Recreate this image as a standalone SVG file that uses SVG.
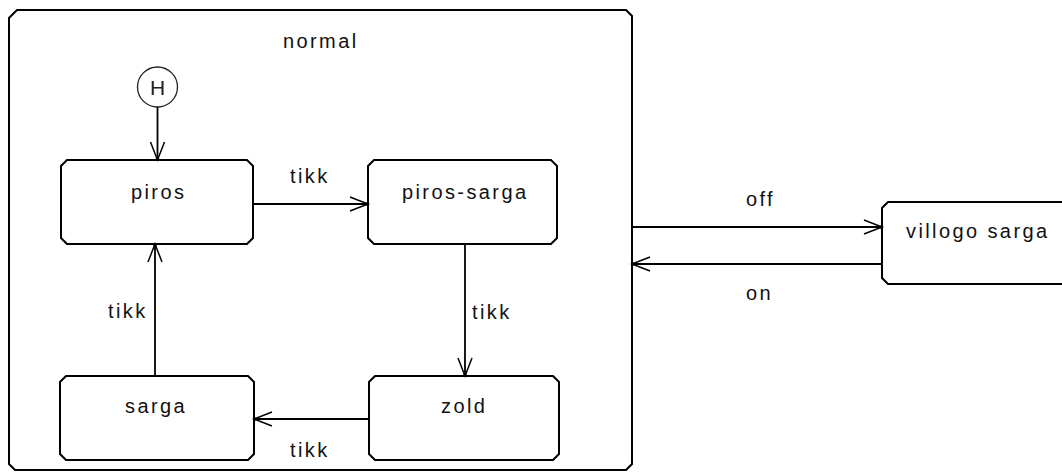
<svg xmlns="http://www.w3.org/2000/svg" width="1062" height="472" viewBox="0 0 1062 472">
<style>
.box{fill:#fff;stroke:#000;stroke-width:2}
.lbl{font-family:"Liberation Sans",Arial,sans-serif;font-size:20px;letter-spacing:2.4px;fill:#111}
.ln{fill:none;stroke:#000;stroke-width:1.8}
</style>
<defs>
<marker id="ah" markerUnits="userSpaceOnUse" markerWidth="24" markerHeight="20" viewBox="-20 -10 24 20" refX="0" refY="0" orient="auto">
<path d="M-18,-7 L0,0 L-18,7" fill="none" stroke="#000" stroke-width="1.5"/>
<circle cx="-1" cy="0" r="1.8" fill="#000"/>
</marker>
</defs>
<rect width="1062" height="472" fill="#fff"/>
<g id="normal">
<path class="box" d="M17,10 L626,10 L632,16 L632,464 L626,470 L15,470 L9,464 L9,18 Z"/>
<text class="lbl" x="283" y="48">normal</text>
</g>
<g id="history">
<circle cx="157.5" cy="87" r="20" fill="#fff" stroke="#222" stroke-width="1.3"/>
<text x="157.5" y="95" text-anchor="middle" style="font-family:'Liberation Sans',Arial,sans-serif;font-size:21px;fill:#222">H</text>
</g>
<g id="piros">
<path class="box" d="M67,160 L247,160 L253,166 L253,238 L247,244 L67,244 L61,238 L61,166 Z"/>
<text class="lbl" x="131" y="199">piros</text>
</g>
<g id="piros-sarga">
<path class="box" d="M374,160 L551,160 L557,166 L557,238 L551,244 L374,244 L368,238 L368,166 Z"/>
<text class="lbl" x="402" y="199">piros-sarga</text>
</g>
<g id="sarga">
<path class="box" d="M66,376 L248,376 L254,382 L254,454 L248,460 L66,460 L60,454 L60,382 Z"/>
<text class="lbl" x="125" y="413">sarga</text>
</g>
<g id="zold">
<path class="box" d="M375,376 L553,376 L559,382 L559,454 L553,460 L375,460 L369,454 L369,382 Z"/>
<text class="lbl" x="441" y="413">zold</text>
</g>
<g id="villogo-sarga">
<path class="box" d="M888,202 L1070,202 L1070,284 L888,284 L882,278 L882,208 Z"/>
<text class="lbl" x="906" y="238">villogo sarga</text>
</g>
<g id="connectors">
<line class="ln" x1="157.5" y1="107" x2="157.5" y2="160" marker-end="url(#ah)"/>
<line class="ln" x1="253" y1="204" x2="368" y2="204" marker-end="url(#ah)"/>
<line class="ln" x1="465" y1="244" x2="465" y2="376" marker-end="url(#ah)"/>
<line class="ln" x1="369" y1="419" x2="254" y2="419" marker-end="url(#ah)"/>
<line class="ln" x1="155" y1="376" x2="155" y2="244" marker-end="url(#ah)"/>
<line class="ln" x1="632" y1="227" x2="882" y2="227" marker-end="url(#ah)"/>
<line class="ln" x1="882" y1="264" x2="632" y2="264" marker-end="url(#ah)"/>
<text class="lbl" x="290" y="183">tikk</text>
<text class="lbl" x="472" y="319">tikk</text>
<text class="lbl" x="290" y="457">tikk</text>
<text class="lbl" x="108" y="318">tikk</text>
<text class="lbl" x="746" y="206">off</text>
<text class="lbl" x="746" y="300">on</text>
</g>
</svg>
